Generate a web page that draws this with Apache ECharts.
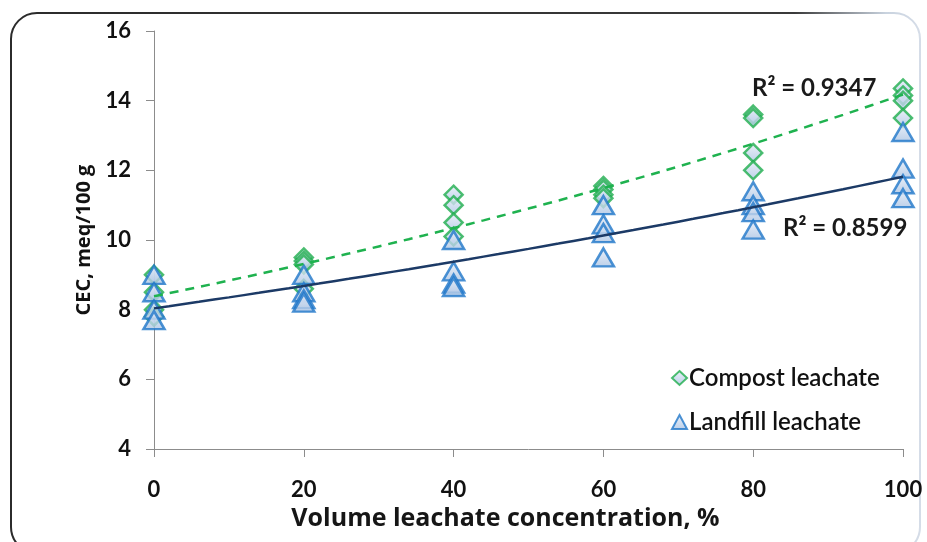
<!DOCTYPE html>
<html>
<head>
<meta charset="utf-8">
<script src="https://cdn.jsdelivr.net/npm/echarts@6/dist/echarts.min.js"></script>
<style>
  html, body { margin: 0; padding: 0; background: #ffffff; }
  #chart { width: 927px; height: 542px; }
</style>
</head>
<body>
<div id="chart"></div>
<script>
// Leachate concentration levels (% by volume)
const concentrations = [0, 20, 40, 60, 80, 100];

// CEC replicates (meq/100 g) at each concentration
const compostCEC = [
  [9.0, 8.5, 8.0, 7.8],
  [9.5, 9.4, 9.3, 8.6],
  [11.3, 11.0, 10.5, 10.1],
  [11.55, 11.45, 11.3, 11.2],
  [13.6, 13.5, 12.5, 12.0],
  [14.35, 14.15, 14.0, 13.5]
];
const landfillCEC = [
  [9.0, 8.5, 8.0, 7.7],
  [9.0, 8.5, 8.3, 8.2],
  [10.0, 9.1, 8.75, 8.65],
  [11.0, 10.45, 10.2, 9.5],
  [11.4, 11.0, 10.8, 10.3],
  [13.1, 12.05, 11.6, 11.2]
];

// Coefficients of determination reported for the trend lines
const r2Compost = '0.9347';
const r2Landfill = '0.8599';

const seriesNames = ['Compost leachate', 'Landfill leachate'];
const yTicks = [4, 6, 8, 10, 12, 14, 16];

function toPoints(reps) {
  const pts = [];
  concentrations.forEach((c, i) => reps[i].forEach(v => pts.push([c, v])));
  return pts;
}

// Exponential least-squares fit y = a * exp(b x) (linear fit on ln y)
function expFit(pts) {
  const n = pts.length;
  let sx = 0, sy = 0, sxx = 0, sxy = 0;
  pts.forEach(([x, y]) => {
    const ly = Math.log(y);
    sx += x; sy += ly; sxx += x * x; sxy += x * ly;
  });
  const b = (n * sxy - sx * sy) / (n * sxx - sx * sx);
  const a = Math.exp((sy - b * sx) / n);
  return { a, b };
}

function fitCurve(pts) {
  const { a, b } = expFit(pts);
  const out = [];
  for (let x = 0; x <= 100; x += 2) out.push([x, a * Math.exp(b * x)]);
  return out;
}

const compostPts = toPoints(compostCEC);
const landfillPts = toPoints(landfillCEC);

const markerFill = {
  type: 'linear', x: 0, y: 0, x2: 0, y2: 1,
  colorStops: [{ offset: 0, color: '#e8eef8' }, { offset: 1, color: '#aac3e3' }]
};

const font = 'Lato, "Open Sans", sans-serif';
const wideFont = '"Open Sans", Lato, sans-serif';

const chart = echarts.init(document.getElementById('chart'), null, { renderer: 'canvas' });

chart.setOption({
  animation: false,
  backgroundColor: '#ffffff',
  textStyle: { fontFamily: font },
  grid: { left: 154, right: 24, top: 31, bottom: 93, containLabel: false },
  graphic: [
    {
      type: 'rect',
      shape: { x: 11, y: 13, width: 909, height: 540, r: 26 },
      style: {
        fill: 'none',
        lineWidth: 2,
        stroke: {
          type: 'linear', x: 0, y: 0, x2: 1, y2: 0,
          colorStops: [
            { offset: 0, color: '#2b2b2b' },
            { offset: 0.86, color: '#3a3a3a' },
            { offset: 0.96, color: '#c9d3df' },
            { offset: 1, color: '#d6dde8' }
          ]
        }
      },
      z: -10,
      silent: true
    },
    {
      type: 'text', left: 752, top: 76,
      style: { text: 'R² = ' + r2Compost, font: 'bold 24px ' + font, fill: '#1a1a1a' }
    },
    {
      type: 'text', left: 783, top: 216,
      style: { text: 'R² = ' + r2Landfill, font: 'bold 24px ' + font, fill: '#1a1a1a' }
    }
  ],
  legend: {
    orient: 'vertical',
    left: 666, top: 361,
    itemGap: 20,
    itemWidth: 15, itemHeight: 14,
    data: seriesNames,
    textStyle: { fontSize: 24, fontWeight: 600, color: '#111', fontFamily: font, padding: [0, 0, 0, -3] }
  },
  xAxis: {
    type: 'value', min: 0, max: 100, interval: 20,
    name: 'Volume leachate concentration, %',
    nameLocation: 'middle', nameGap: 56,
    nameTextStyle: { fontSize: 25, fontWeight: 'bold', color: '#161616', fontFamily: wideFont, padding: [0, 46, 0, 0] },
    axisLine: { show: true, lineStyle: { color: '#8c8c8c', width: 1 } },
    axisTick: { show: true, length: 8, lineStyle: { color: '#8c8c8c' } },
    axisLabel: { fontSize: 22, fontWeight: 'bold', color: '#111', margin: 30, fontFamily: font },
    splitLine: { show: false }
  },
  yAxis: {
    type: 'value', min: yTicks[0], max: yTicks[yTicks.length - 1], interval: 2,
    name: 'CEC, meq/100 g',
    nameLocation: 'middle', nameGap: 56,
    nameTextStyle: { fontSize: 20, fontWeight: 'bold', color: '#111', fontFamily: wideFont },
    axisLine: { show: true, lineStyle: { color: '#8c8c8c', width: 1 } },
    axisTick: { show: true, length: 8, inside: false, lineStyle: { color: '#8c8c8c' } },
    axisLabel: { fontSize: 22, fontWeight: 'bold', color: '#111', margin: 23, fontFamily: font },
    splitLine: { show: false }
  },
  series: [
    {
      name: seriesNames[0], type: 'scatter', data: compostPts,
      symbol: 'diamond', symbolSize: [18, 18],
      itemStyle: { color: markerFill, borderColor: '#1fae4e', borderWidth: 2.5 },
      z: 2
    },
    {
      name: seriesNames[1], type: 'scatter', data: landfillPts,
      symbol: 'triangle', symbolSize: [21, 18],
      itemStyle: { color: markerFill, borderColor: '#1f77c9', borderWidth: 2.5 },
      z: 3
    },
    {
      name: 'compost-fit', type: 'line', data: fitCurve(compostPts),
      showSymbol: false, smooth: false, silent: true,
      lineStyle: { color: '#1fb24f', width: 2.5, type: [9, 7] },
      z: 4
    },
    {
      name: 'landfill-fit', type: 'line', data: fitCurve(landfillPts),
      showSymbol: false, smooth: false, silent: true,
      lineStyle: { color: '#1c3a66', width: 2.5 },
      z: 5
    }
  ]
});
</script>
</body>
</html>
